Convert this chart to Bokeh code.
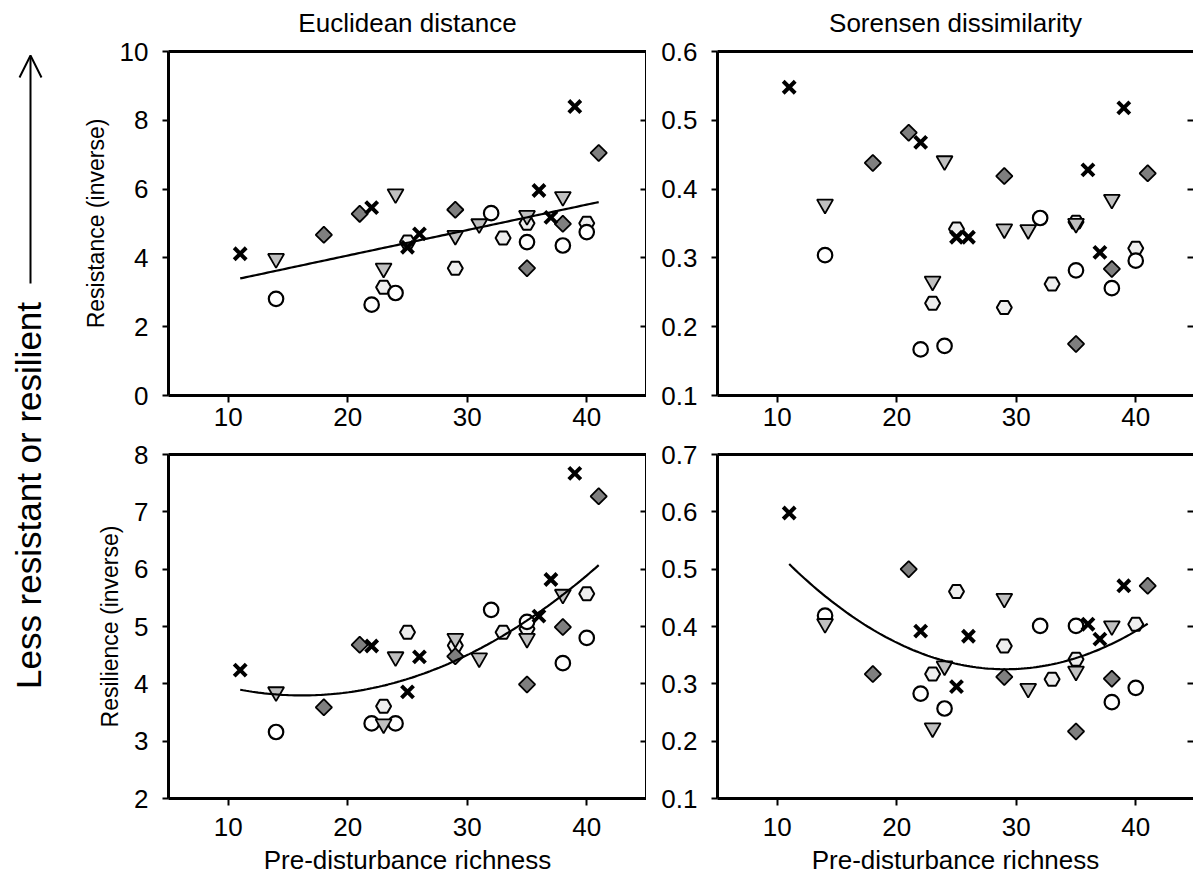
import numpy as np
from bokeh.plotting import figure
from bokeh.layouts import row, column
from bokeh.models import (LinearAxis, FixedTicker, Label, Arrow, OpenHead, Range1d,
                          CustomLabelingPolicy)
from bokeh.embed import file_html
from bokeh.resources import INLINE

FONT = "Liberation Sans"

# ---------------- text ----------------
panel_titles = ["Euclidean distance", "Sorensen dissimilarity"]
y_label_resist = "Resistance (inverse)"
y_label_resil = "Resilience (inverse)"
x_label = "Pre-disturbance richness"
side_label = "Less resistant or resilient"

x_ticks = [10, 20, 30, 40]
y_ticks_resist_euc = [0, 2, 4, 6, 8, 10]
y_ticks_resist_sor = [0.1, 0.2, 0.3, 0.4, 0.5, 0.6]
y_ticks_resil_euc = [2, 3, 4, 5, 6, 7, 8]
y_ticks_resil_sor = [0.1, 0.2, 0.3, 0.4, 0.5, 0.6, 0.7]

# ---------------- data: pre-disturbance richness per site group ----------------
rich_cross = [11, 22, 25, 26, 36, 37, 39]
rich_tri = [14, 23, 24, 29, 31, 35, 38]
rich_dia = [18, 21, 29, 35, 38, 41]
rich_circ = [14, 22, 24, 32, 35, 38, 40]
rich_hex = [23, 25, 29, 33, 35, 40]

# Resistance (inverse), Euclidean distance
res_euc_cross = [4.12, 5.46, 4.31, 4.70, 5.96, 5.18, 8.40]
res_euc_tri = [3.98, 3.70, 5.86, 4.65, 4.99, 5.23, 5.78]
res_euc_dia = [4.67, 5.28, 5.40, 3.70, 4.99, 7.05]
res_euc_circ = [2.81, 2.64, 2.98, 5.30, 4.46, 4.36, 4.75]
res_euc_hex = [3.15, 4.46, 3.70, 4.58, 5.01, 5.01]

# Resistance (inverse), Sorensen dissimilarity
res_sor_cross = [0.548, 0.468, 0.330, 0.330, 0.428, 0.308, 0.518]
res_sor_tri = [0.378, 0.266, 0.441, 0.342, 0.341, 0.350, 0.385]
res_sor_dia = [0.438, 0.482, 0.419, 0.175, 0.284, 0.423]
res_sor_circ = [0.304, 0.167, 0.172, 0.358, 0.282, 0.256, 0.296]
res_sor_hex = [0.234, 0.342, 0.228, 0.262, 0.352, 0.314]

# Resilience (inverse), Euclidean distance
sil_euc_cross = [4.24, 4.66, 3.86, 4.47, 5.18, 5.82, 7.67]
sil_euc_tri = [3.86, 3.30, 4.47, 4.79, 4.45, 4.79, 5.56]
sil_euc_dia = [3.59, 4.68, 4.48, 3.99, 4.99, 7.27]
sil_euc_circ = [3.16, 3.31, 3.31, 5.29, 5.08, 4.36, 4.80]
sil_euc_hex = [3.61, 4.90, 4.67, 4.90, 4.96, 5.57]

# Resilience (inverse), Sorensen dissimilarity
sil_sor_cross = [0.598, 0.392, 0.295, 0.383, 0.404, 0.378, 0.471]
sil_sor_tri = [0.405, 0.223, 0.331, 0.449, 0.292, 0.322, 0.401]
sil_sor_dia = [0.317, 0.500, 0.312, 0.217, 0.309, 0.471]
sil_sor_circ = [0.419, 0.283, 0.257, 0.401, 0.401, 0.268, 0.293]
sil_sor_hex = [0.317, 0.461, 0.366, 0.308, 0.343, 0.404]

RICH = [rich_cross, rich_tri, rich_dia, rich_circ, rich_hex]

FRAME_H = 344
FRAME_W_LEFT = 478
FRAME_W_RIGHT = 476
X_START = 5
X_END_LEFT = 45
PX_PER_UNIT = FRAME_W_LEFT / (X_END_LEFT - X_START)
TICK_FONT = "26px"
LINE_W = 3

NO_LABELS = "for (const i of indices) { indices.unset(i) }\nreturn indices"


def style_axis(ax, tick_out, tick_in, standoff, show_labels=True):
    ax.major_tick_out = tick_out
    ax.major_tick_in = tick_in
    ax.minor_tick_out = 0
    ax.minor_tick_in = 0
    ax.axis_line_width = LINE_W
    ax.axis_line_color = "black"
    ax.major_tick_line_width = 2
    ax.major_tick_line_color = "black"
    ax.major_label_text_font = FONT
    ax.major_label_text_color = "black"
    ax.major_label_standoff = standoff
    if show_labels:
        ax.major_label_text_font_size = TICK_FONT
    else:
        ax.major_label_text_font_size = "0px"
        ax.major_label_policy = CustomLabelingPolicy(code=NO_LABELS)


def set_axis_label(ax, text, size, standoff):
    ax.axis_label = text
    ax.axis_label_text_font = FONT
    ax.axis_label_text_font_size = size
    ax.axis_label_text_font_style = "normal"
    ax.axis_label_text_color = "black"
    ax.axis_label_standoff = standoff


def make_panel(series, y_range, y_ticks, fit_deg, left_col, top_row, title=None, ylabel=None, xlabel=None):
    fw = FRAME_W_LEFT if left_col else FRAME_W_RIGHT
    x_end = X_START + fw / PX_PER_UNIT
    p = figure(frame_width=fw, frame_height=FRAME_H,
               x_range=Range1d(X_START, x_end), y_range=Range1d(*y_range),
               output_backend="svg", toolbar_location=None,
               min_border_left=108 if left_col else 71, min_border_right=0,
               min_border_top=51 if top_row else 16,
               min_border_bottom=43 if top_row else 90,
               outline_line_color=None,
               background_fill_color="white", border_fill_color="white")
    p.grid.visible = False

    xa = p.xaxis[0]
    xa.ticker = FixedTicker(ticks=x_ticks)
    style_axis(xa, 7, 0, 5 if top_row else 12)
    if xlabel:
        set_axis_label(xa, xlabel, "26px", 6)

    ya = p.yaxis[0]
    ya.ticker = FixedTicker(ticks=y_ticks)
    style_axis(ya, 6, 0, 14)
    if ylabel:
        set_axis_label(ya, ylabel, "23px", 8)

    ra = LinearAxis(ticker=FixedTicker(ticks=y_ticks))
    style_axis(ra, 0, 6, 0, show_labels=False)
    if not left_col:
        ra.axis_line_color = None
    p.add_layout(ra, "right")

    ta = LinearAxis(ticker=FixedTicker(ticks=[]))
    style_axis(ta, 0, 0, 0, show_labels=False)
    if title:
        set_axis_label(ta, title, "26px", 14)
    p.add_layout(ta, "above")

    cross, tri, dia, circ, hexa = series
    p.scatter(rich_hex, hexa, marker="hex", size=15, fill_color="#eeeeee",
              line_color="black", line_width=2)
    p.scatter(rich_circ, circ, marker="circle", size=14.5, fill_color="white",
              line_color="black", line_width=2.2)
    p.scatter(rich_tri, tri, marker="inverted_triangle", size=16, fill_color="#c0c0c0",
              line_color="black", line_width=1.8)
    p.scatter(rich_dia, dia, marker="square", angle=np.pi / 4, size=11.5,
              fill_color="#7f7f7f", line_color="black", line_width=1.8)
    p.scatter(rich_cross, cross, marker="x", size=17, line_color="black", line_width=4)

    if fit_deg:
        xs_all = np.concatenate([np.asarray(r, float) for r in RICH])
        ys_all = np.concatenate([np.asarray(s, float) for s in series])
        coef = np.polyfit(xs_all, ys_all, fit_deg)
        xf = np.linspace(xs_all.min(), xs_all.max(), 120)
        p.line(xf, np.polyval(coef, xf), line_color="black", line_width=2.2)
    return p


tl = make_panel([res_euc_cross, res_euc_tri, res_euc_dia, res_euc_circ, res_euc_hex],
                (0, 10), y_ticks_resist_euc, 1, True, True,
                title=panel_titles[0], ylabel=y_label_resist)
tr = make_panel([res_sor_cross, res_sor_tri, res_sor_dia, res_sor_circ, res_sor_hex],
                (0.1, 0.6), y_ticks_resist_sor, 0, False, True,
                title=panel_titles[1])
bl = make_panel([sil_euc_cross, sil_euc_tri, sil_euc_dia, sil_euc_circ, sil_euc_hex],
                (2, 8), y_ticks_resil_euc, 2, True, False,
                ylabel=y_label_resil, xlabel=x_label)
br = make_panel([sil_sor_cross, sil_sor_tri, sil_sor_dia, sil_sor_circ, sil_sor_hex],
                (0.1, 0.7), y_ticks_resil_sor, 2, False, False,
                xlabel=x_label)

side = figure(width=60, height=888, x_range=Range1d(0, 60), y_range=Range1d(0, 888),
              toolbar_location=None, output_backend="svg", min_border=0,
              outline_line_color=None, x_axis_location=None, y_axis_location=None,
              border_fill_color="white", background_fill_color="white")
side.grid.visible = False
side.add_layout(Label(x=28, y=393, text=side_label, angle=np.pi / 2,
                      text_align="center", text_baseline="middle",
                      text_font=FONT, text_font_size="35px", text_color="black"))
side.add_layout(Arrow(end=OpenHead(size=22, line_width=2, line_color="black"),
                      x_start=30, y_start=605, x_end=30, y_end=833,
                      line_width=2, line_color="black"))

layout = row(side, column(row(tl, tr), row(bl, br)))

open("out.html", "w").write(file_html(layout, INLINE))
